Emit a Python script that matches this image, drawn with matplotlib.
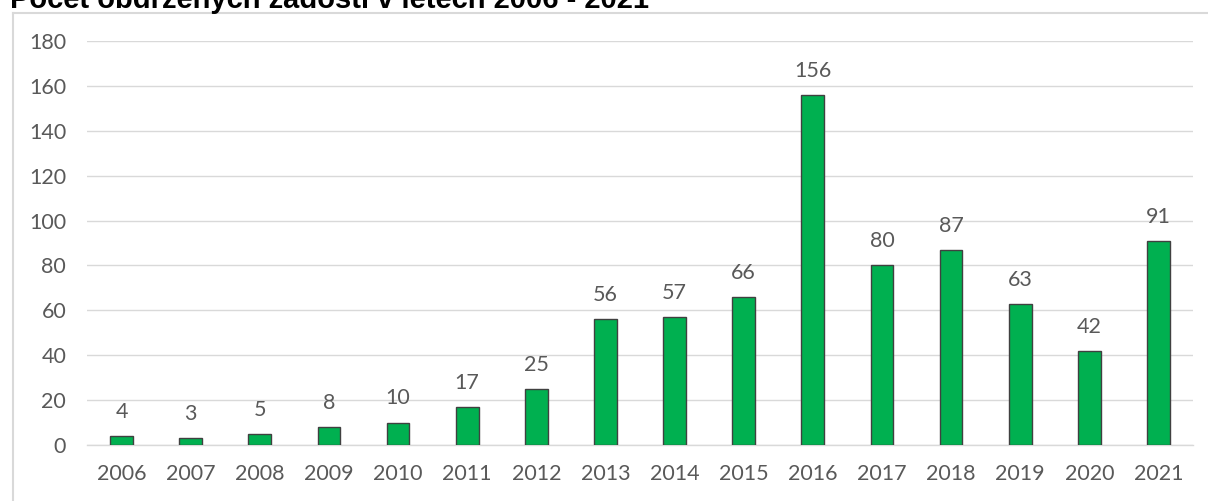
import matplotlib.pyplot as plt
from matplotlib.lines import Line2D

# Data
years = ['2006', '2007', '2008', '2009', '2010', '2011', '2012', '2013',
         '2014', '2015', '2016', '2017', '2018', '2019', '2020', '2021']
counts = [4, 3, 5, 8, 10, 17, 25, 56, 57, 66, 156, 80, 87, 63, 42, 91]
y_ticks = [0, 20, 40, 60, 80, 100, 120, 140, 160, 180]
title = "Počet obdržených žádostí v letech 2006 - 2021"

text_col = '#595959'
grid_col = '#D9D9D9'

fig = plt.figure(figsize=(12.08, 5.01), dpi=100)
ax = fig.add_axes([0.0720, 0.1118, 0.9156, 0.8064])

x = range(len(years))
ax.bar(x, counts, width=0.33, color='#00B050', edgecolor='#404040',
       linewidth=1.0, zorder=3)

for i, v in enumerate(counts):
    ax.annotate(str(v), (i, v), xytext=(0, 13), textcoords='offset points',
                ha='center', va='baseline', fontsize=15.5, color=text_col,
                family='Lato')

ax.set_xlim(-0.5, len(years) - 0.5)
ax.set_ylim(0, 180)
ax.set_yticks(y_ticks)
ax.set_xticks(list(x))
ax.set_xticklabels(years)
ax.yaxis.grid(True, color=grid_col, linewidth=1.0, zorder=0)
ax.set_axisbelow(True)
for s in ['top', 'right', 'left']:
    ax.spines[s].set_visible(False)
ax.spines['bottom'].set_color(grid_col)
ax.spines['bottom'].set_linewidth(1.0)
ax.tick_params(axis='both', length=0, labelsize=15.5, labelcolor=text_col)
ax.tick_params(axis='x', pad=14)
ax.tick_params(axis='y', pad=15)
for lab in ax.get_xticklabels() + ax.get_yticklabels():
    lab.set_family('Lato')

# chart frame (only left and top edges visible)
fig.add_artist(Line2D([12.5 / 1208, 12.5 / 1208], [0, 1 - 13 / 501],
                      transform=fig.transFigure, color=grid_col, linewidth=1.5))
fig.add_artist(Line2D([12.5 / 1208, 1], [1 - 13 / 501, 1 - 13 / 501],
                      transform=fig.transFigure, color=grid_col, linewidth=1.5))

# title, clipped at the top edge like the original
fig.text(10 / 1208, 1 - 8 / 501, title, ha='left', va='baseline',
         fontsize=21, fontweight='bold', family='Liberation Sans', color='black')

fig.savefig('out.png', dpi=100)
